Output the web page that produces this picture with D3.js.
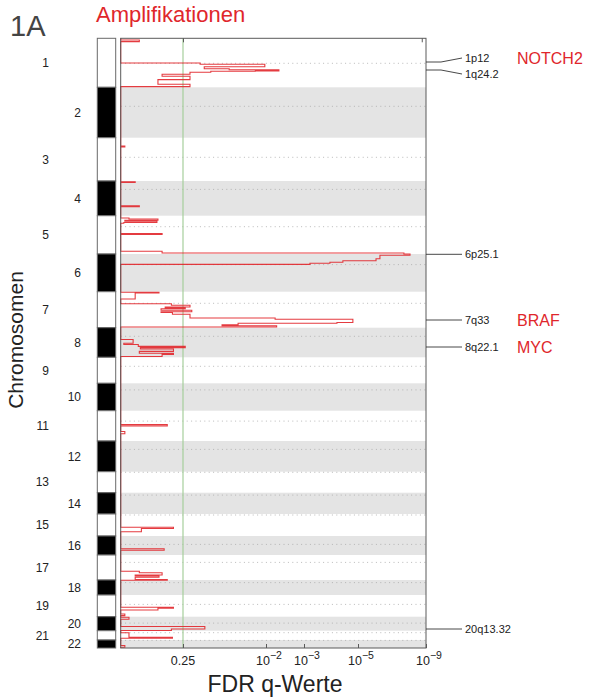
<!DOCTYPE html>
<html><head><meta charset="utf-8">
<script src="https://cdn.jsdelivr.net/npm/d3@7"></script>
<style>body{margin:0;background:#fff;} svg{display:block;font-family:"Liberation Sans",Arial,Helvetica,sans-serif;}</style>
</head><body>
<svg id="c" width="591" height="700"></svg>
<script>
// ---------- data ----------
const chromosomes = ["1","2","3","4","5","6","7","8","9","10","11","12","13","14","15","16","17","18","19","20","21","22"];
// chromosome sizes (marker-based genome units) and centromere offsets
const chromSizes = [245,252,216.5,173.5,191.5,188.5,180,148,130,137,151.5,153.5,105,106.5,110,95,125,75,108.5,70,46.5,40];
const centromeres = [125,95,98,42,55,53,58,43,45,33,52,42,3,12,5,42,37,13,47,32,10,2];
// q-value axis ticks
const qTicks = [0.25, 1e-2, 1e-3, 1e-5, 1e-9];
const qTickBase = ["0.25","10","10","10","10"];
const qTickExp = ["","−2","−3","−5","−9"];
const qThreshold = 0.25;
// amplification profile: [chromosome, position in chromosome, -log10(q)] (step starts)
const ampProfile = [
  [1,0,0],[1,8.5,0.18],[1,16.5,0],[1,123.5,0.89],[1,130,1.98],[1,142,0.96],[1,152,1.38],[1,157,2.34],
  [1,163,1.82],[1,165,1.07],[1,170,0.72],[1,179.5,0.40],[1,190,0.72],[1,206.5,0.36],[1,230,0.72],[1,241.5,0],
  [3,41.5,0.04],[3,46.5,0],
  [4,3.5,0.14],[4,7.5,0],[4,124,0.18],[4,129,0],
  [5,11.5,0.08],[5,16.5,0.36],[5,23,0.04],[5,27.5,0.35],[5,34,0.03],[5,38,0],[5,89,0.40],[5,94,0],
  [5,178,0.40],[5,186.5,7.7],
  [6,0,8.06],[6,6.5,6.29],[6,24,6.06],[6,33.5,4.44],[6,41.5,3.96],[6,46.5,3.22],[6,52,0],
  [7,2.5,0.37],[7,6.5,0.14],[7,36.5,0],[7,60,0.49],[7,68,0.72],[7,76.5,0.43],[7,80.5,0.64],[7,85,0.39],
  [7,93,0.75],[7,100.5,0.39],[7,103.5,0.50],[7,113,0.72],[7,131.5,2.24],[7,138,4.81],[7,154,4.22],
  [7,158,1.53],[7,165.5,1.26],[7,170,2.28],[7,176.5,0],
  [8,59,0.12],[8,78,0.03],[8,84,0.17],[8,93.5,0.64],[8,99.5,0.19],[8,106.5,0.51],[8,118.5,0.18],
  [8,128,0.51],[8,133.5,0.40],[8,144,0],
  [11,69.5,0.45],[11,76.5,0],[11,104,0.04],[11,115.5,0],
  [15,66.5,0.51],[15,72.5,0.20],[15,88.5,0],
  [16,64,0.42],[16,71,0],
  [17,81.5,0.18],[17,88.5,0.40],[17,100,0.14],[17,105,0.37],[17,111.5,0.14],[17,122.5,0.45],[18,1.5,0],
  [19,61,0.51],[19,66,0.36],[19,75,0],[19,95,0.04],[19,103,0],
  [20,3,0.08],[20,13,0],[20,49,0.97],[20,61.5,0.49],[20,69,0],
  [21,10,0.08],[21,33,0.50],[21,38,0],
  [22,27.5,0.04],[22,36.5,0]
];
// annotated peaks
const peakBands = ["1p12","1q24.2","6p25.1","7q33","8q22.1","20q13.32"];
const peakChroms = [1,1,6,7,8,20];
const peakPositions = [118.5,158.5,1.5,141.5,96.5,61.5];
const peakGenes = ["NOTCH2","","","BRAF","MYC",""];

// ---------- layout ----------
const svg = d3.select("#c");
const plot = {left:120.7, right:426, top:38.3, bottom:648};
const ideo = {left:97.3, right:115.7};

const offsets = [];
chromSizes.reduce((acc, s, i) => { offsets[i] = acc; return acc + s; }, 0);
const total = d3.sum(chromSizes);

const y = d3.scaleLinear().domain([0, total]).range([plot.top, plot.bottom]);
// nonlinear q-value axis (positions follow the underlying G-score scale)
const x = d3.scaleLinear()
  .domain([0].concat(qTicks.map(q => -Math.log10(q))))
  .range([plot.left, 183, 266, 304, 358, plot.right]);

const gpos = (c, p) => offsets[c - 1] + p;

// even-chromosome shading
svg.append("g").selectAll("rect").data(chromosomes).join("rect")
  .filter((d, i) => i % 2 === 1)
  .attr("x", plot.left).attr("width", plot.right - plot.left)
  .attr("y", (d) => y(offsets[chromosomes.indexOf(d)]))
  .attr("height", (d) => y(offsets[chromosomes.indexOf(d)] + chromSizes[chromosomes.indexOf(d)]) - y(offsets[chromosomes.indexOf(d)]))
  .attr("fill", "#e4e4e4");

// centromere dotted lines
svg.append("g").selectAll("line").data(centromeres).join("line")
  .attr("x1", plot.left).attr("x2", plot.right)
  .attr("y1", (d, i) => y(offsets[i] + d)).attr("y2", (d, i) => y(offsets[i] + d))
  .attr("stroke", "#a8a8a8").attr("stroke-width", 0.8).attr("stroke-dasharray", "1,3.4");

// threshold line
svg.append("line")
  .attr("x1", x(-Math.log10(qThreshold))).attr("x2", x(-Math.log10(qThreshold)))
  .attr("y1", plot.top).attr("y2", plot.bottom)
  .attr("stroke", "#a6cf9c").attr("stroke-width", 1.2);

// profile
const pts = [[0, 0]].concat(ampProfile.map(d => [gpos(d[0], d[1]), d[2]])).concat([[total, 0]]);
pts.sort((a, b) => a[0] - b[0]);
const line = d3.line().x(d => x(d[1])).y(d => y(d[0])).curve(d3.curveStepBefore);
svg.append("path").attr("d", line(pts))
  .attr("fill", "none").attr("stroke", "#e1262b").attr("stroke-width", 1.1).attr("stroke-opacity", 0.9);

// frame
svg.append("rect").attr("x", plot.left).attr("y", plot.top)
  .attr("width", plot.right - plot.left).attr("height", plot.bottom - plot.top)
  .attr("fill", "none").attr("stroke", "#5a5a5a").attr("stroke-width", 1);

// bottom ticks
const bottomAxis = d3.axisBottom(x).tickValues(qTicks.map(q => -Math.log10(q))).tickSizeInner(-4).tickSizeOuter(0).tickFormat("");
const bx = svg.append("g").attr("transform", `translate(0,${plot.bottom})`).call(bottomAxis);
bx.select(".domain").remove();
bx.selectAll("line").attr("stroke", "#5a5a5a");
// top ticks
const topAxis = d3.axisTop(x).tickValues([-Math.log10(qThreshold), 8.75]).tickSizeInner(-4).tickSizeOuter(0).tickFormat("");
const tx = svg.append("g").attr("transform", `translate(0,${plot.top})`).call(topAxis);
tx.select(".domain").remove();
tx.selectAll("line").attr("stroke", "#5a5a5a");

// tick labels
const tl = svg.append("g").selectAll("text").data(qTicks).join("text")
  .attr("x", d => x(-Math.log10(d)) + (qTickExp[qTicks.indexOf(d)] ? 3 : 0))
  .attr("y", 665).attr("text-anchor", "middle").attr("font-size", 12.5).attr("fill", "#222");
tl.append("tspan").text((d, i) => qTickBase[i]);
tl.append("tspan").attr("dy", -6.5).attr("font-size", 10.5).text((d, i) => qTickExp[i]);

// ideogram
svg.append("g").selectAll("rect").data(chromosomes).join("rect")
  .attr("x", ideo.left).attr("width", ideo.right - ideo.left)
  .attr("y", (d, i) => y(offsets[i]))
  .attr("height", (d, i) => y(offsets[i] + chromSizes[i]) - y(offsets[i]))
  .attr("fill", (d, i) => i % 2 ? "#000" : "#fff")
  .attr("stroke", "#6a6a6a").attr("stroke-width", 1);

// chromosome labels
svg.append("g").selectAll("text").data(chromosomes).join("text")
  .attr("x", (d, i) => i % 2 ? 81 : 49)
  .attr("y", (d, i) => y(offsets[i] + chromSizes[i] / 2))
  .attr("dy", "0.35em").attr("text-anchor", "end").attr("font-size", 12).attr("fill", "#222")
  .text(d => d);

// peak labels
const nudge = [-4, 4, 0, 0, 0, 0];
const pk = svg.append("g");
peakBands.forEach((b, i) => {
  const py = y(gpos(peakChroms[i], peakPositions[i]));
  const ty = py + nudge[i];
  pk.append("path").attr("d", `M${plot.right},${py}H${plot.right + 15}L${plot.right + 36},${ty}`)
    .attr("fill", "none").attr("stroke", "#333").attr("stroke-width", 0.9);
  pk.append("text").attr("x", plot.right + 39).attr("y", ty).attr("dy", "0.35em")
    .attr("font-size", 11).attr("fill", "#222").text(b);
  if (peakGenes[i]) {
    pk.append("text").attr("x", 517).attr("y", ty).attr("dy", "0.36em")
      .attr("font-size", 16).attr("fill", "#e0262b").text(peakGenes[i]);
  }
});

// titles
svg.append("text").attr("x", 10).attr("y", 36).attr("font-size", 29).attr("fill", "#444").text("1A");
svg.append("text").attr("x", 96).attr("y", 22).attr("font-size", 22).attr("fill", "#e0262b").text("Amplifikationen");
svg.append("text").attr("x", 275).attr("y", 692).attr("text-anchor", "middle").attr("font-size", 23).attr("fill", "#222").text("FDR q-Werte");
svg.append("text").attr("transform", "translate(23,340) rotate(-90)").attr("text-anchor", "middle")
  .attr("font-size", 21).attr("fill", "#222").text("Chromosomen");
</script>
</body></html>
